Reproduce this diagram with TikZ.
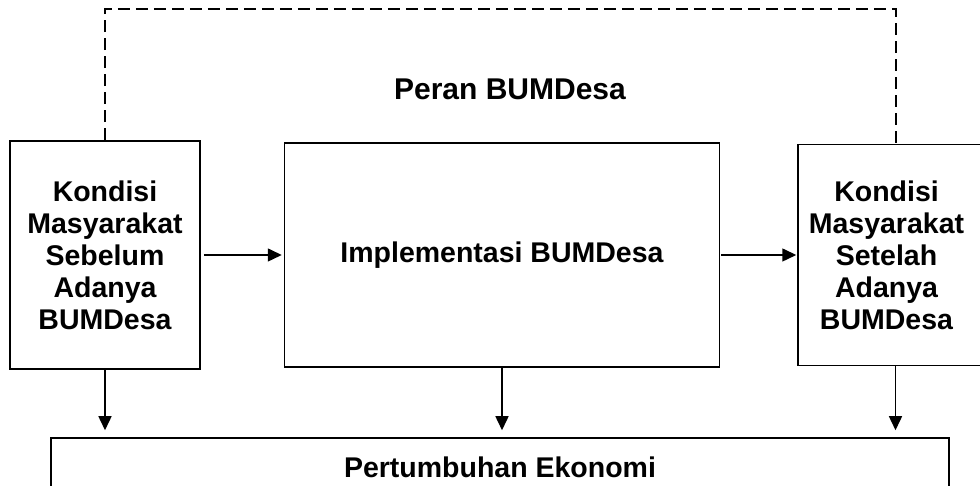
\documentclass[tikz,border=0pt]{standalone}
\usepackage{fontspec}
\setmainfont{Liberation Sans}
\usetikzlibrary{positioning, arrows.meta}

\begin{document}
\begin{tikzpicture}[x=1pt, y=1pt, node distance=1mm,
    box/.style={draw, line width=1.5pt, align=center, inner sep=0pt, font=\bfseries\fontsize{28.5}{32}\selectfont},
    flow/.style={-{Triangle[length=14pt, width=13pt]}, line width=1.5pt}]
    \useasboundingbox (0, 0) rectangle (980, 486);

    \node[box, minimum width=190pt, minimum height=228pt, text width=190pt] (before) at (105, 231) {Kondisi\\ Masyarakat\\ Sebelum\\ Adanya\\ BUMDesa};
    \node[box, minimum width=435pt, minimum height=224pt, right = 83pt of before] (impl) {Implementasi BUMDesa};
    \node[box, minimum width=195pt, minimum height=221pt, right = 77pt of impl] (after) {};
    \node[box, draw=none, text width=176pt] (afterText) at ([xshift=-9pt]after.center) {Kondisi\\ Masyarakat\\ Setelah\\ Adanya\\ BUMDesa};
    \node[box, minimum width=898pt, minimum height=58pt] (growth) at (500, 19) {Pertumbuhan Ekonomi};
    \node[box, draw=none, font=\bfseries\fontsize{30}{32}\selectfont] (peran) at (510, 397) {Peran BUMDesa};

    % feedback line over the top
    \coordinate (top) at (0, 477);
    \draw[dash pattern=on 12pt off 6pt, line width=2pt] (before.north) |- (top -| after.north) -- (after.north);

    \draw[flow, shorten <=3pt, shorten >=2pt] (before.east) -- (impl.west);
    \draw[flow, shorten <=1pt, shorten >=1pt] (impl.east) -- (after.west);
    \draw[flow, shorten >=7pt] (before.south) -- (before.south |- growth.north);
    \draw[flow, shorten >=7pt] (impl.south) -- (impl.south |- growth.north);
    \draw[flow, shorten >=7pt] (after.south) -- (after.south |- growth.north);
\end{tikzpicture}
\end{document}
